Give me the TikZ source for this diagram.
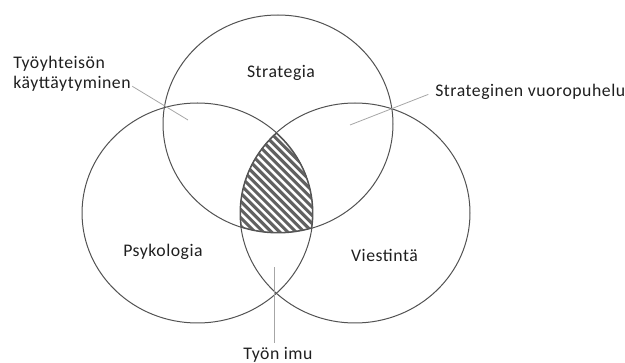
\documentclass[tikz,border=0pt]{standalone}
\usepackage{fontspec}
\setmainfont{Carlito}[LetterSpace=3]
\begin{document}
\begin{tikzpicture}[x=0.75pt,y=-0.75pt,
  lbl/.style={inner sep=0pt,text=black!88,font=\fontsize{13.3pt}{16pt}\selectfont},
  ring/.style={draw=black!68,line width=0.75pt},
  leader/.style={draw=black!35,line width=0.6pt},
  hatchline/.style={draw=black!62,line width=2.3pt},
  hatchborder/.style={draw=black!62,line width=1.6pt}]
\useasboundingbox (0,0) rectangle (625,363);
% circles
\coordinate (cT) at (278,124);
\coordinate (cL) at (197.5,213);
\coordinate (cR) at (355,213);
% hatched triple intersection
\begin{scope}
  \clip (cT) ellipse [x radius=86.25pt, y radius=81.75pt];
  \clip (cL) ellipse [x radius=86.6pt, y radius=82.5pt];
  \clip (cR) ellipse [x radius=86.25pt, y radius=82.5pt];
  \foreach \k in {0,...,40}
    \draw[hatchline] ({20+8.2*\k},120) -- ++(140,140);
  \draw[hatchborder] (cT) ellipse [x radius=86.25pt, y radius=81.75pt];
  \draw[hatchborder] (cL) ellipse [x radius=86.6pt, y radius=82.5pt];
  \draw[hatchborder] (cR) ellipse [x radius=86.25pt, y radius=82.5pt];
\end{scope}
\draw[ring] (cT) ellipse [x radius=86.25pt, y radius=81.75pt];
\draw[ring] (cL) ellipse [x radius=86.6pt, y radius=82.5pt];
\draw[ring] (cR) ellipse [x radius=86.25pt, y radius=82.5pt];
% labels
\node[lbl,anchor=base] (strat) at (281,78) {Strategia};
\node[lbl,anchor=base] (psyk) at (163,257) {Psykologia};
\node[lbl,anchor=base] (viest) at (384.5,262) {Viestintä};
\node[lbl,anchor=base west] (ty1) at (13,69) {Työyhteisön};
\node[lbl,anchor=base west] (ty2) at (13,89) {käyttäytyminen};
\node[lbl,anchor=base west] (sv) at (435,97) {Strateginen vuoropuhelu};
\node[lbl,anchor=base] (imu) at (278,359) {Työn imu};
% leader ends
\coordinate (tyEnd) at (188,120);
\coordinate (svEnd) at (350,125);
\coordinate (imuEnd) at (274.5,267);
\draw[leader] ([xshift=1pt,yshift=-1.5pt]ty2.east) -- (tyEnd);
\draw[leader] ([xshift=-5pt,yshift=-1.5pt]sv.west) -- (svEnd);
\draw[leader] ([yshift=3pt]imu.north -| imuEnd) -- (imuEnd);
\end{tikzpicture}
\end{document}
